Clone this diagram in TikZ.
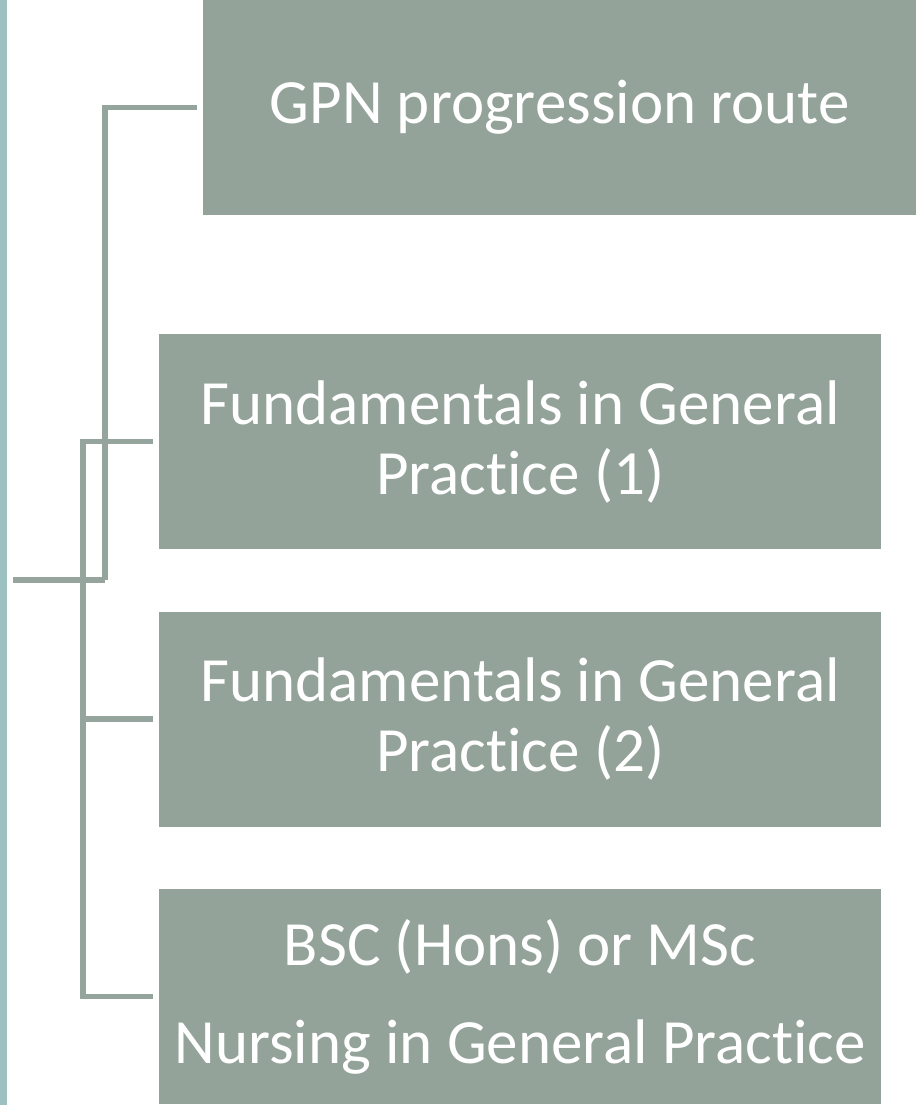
\documentclass[tikz,border=0pt]{standalone}
\usepackage{fontspec}
\setmainfont{Carlito}[RawFeature={-liga;-clig;-calt;-dlig;-rlig}]
\usepackage{tikz}
\usetikzlibrary{positioning}
\usepackage{xcolor}
\definecolor{boxgrey}{RGB}{148,163,154}
\definecolor{linegrey}{RGB}{149,165,158}
\definecolor{bargreen}{RGB}{157,193,192}
\tikzset{
    level/.style={rectangle, fill=boxgrey, text=white, align=center, inner sep=0pt, minimum height=215pt, font=\fontsize{63}{70}\selectfont},
    conn/.style={draw=linegrey, line width=5.5pt, shorten >=6pt}
}

\begin{document}
\begin{tikzpicture}[x=1pt, y=-1pt, node distance=62pt and 0pt]
    \useasboundingbox (0,0) rectangle (916,1105);
    % Side bar
    \fill[bargreen] (0,0) rectangle (7,1105);
    % Nodes
    \node (gpn) [level, minimum width=713pt, anchor=north west] at (203,0) {GPN progression route};
    \node (fund1) [level, minimum width=722pt, anchor=north west] at (159,334) {Fundamentals in General\\Practice (1)};
    \node (fund2) [level, minimum width=722pt, below=of fund1] {Fundamentals in General\\Practice (2)};
    \node (degree) [level, minimum width=722pt, below=of fund2] {BSC (Hons) or MSc\\[28pt]Nursing in General Practice};
    \coordinate (root) at (13,580);
    \coordinate (hubA) at (105,580);
    \coordinate (hubB) at (83,580);
    % Connectors
    \draw [conn, shorten >=0pt] (root) -- (hubA);
    \draw [conn] (hubA) |- (gpn.west);
    \draw [conn] (hubB) |- (fund1.west);
    \draw [conn] (hubB) |- (fund2.west);
    \draw [conn] (hubB) |- (degree.west);
\end{tikzpicture}
\end{document}
